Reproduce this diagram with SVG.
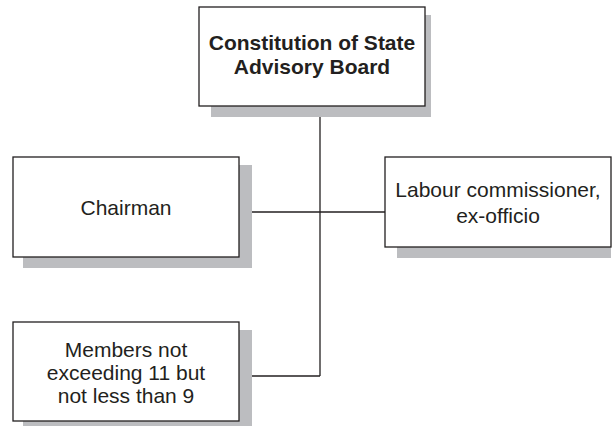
<svg xmlns="http://www.w3.org/2000/svg" width="613" height="427" viewBox="0 0 613 427">
  <style>
    .shadow { fill: #bcbdc0; }
    .box { fill: #ffffff; stroke: #231f20; stroke-width: 1.3; }
    .label { font-family: "Liberation Sans", Arial, sans-serif; font-size: 21px; fill: #231f20; text-anchor: middle; }
    .title { font-weight: bold; font-size: 21px; }
    .link { fill: none; stroke: #231f20; stroke-width: 1.3; }
  </style>

  <!-- connectors -->
  <g id="connectors">
    <line class="link" x1="320" y1="117" x2="320" y2="376"/>
    <line class="link" x1="252" y1="212" x2="385" y2="212"/>
    <line class="link" x1="252" y1="376" x2="320" y2="376"/>
  </g>

  <g id="board">
    <rect class="shadow" x="211" y="15" width="220" height="102"/>
    <rect class="box" x="199" y="7" width="226" height="99"/>
    <text class="label title" x="312" y="50">Constitution of State</text>
    <text class="label title" x="312" y="74">Advisory Board</text>
  </g>

  <g id="chairman">
    <rect class="shadow" x="23" y="165" width="229" height="103"/>
    <rect class="box" x="13" y="157" width="226" height="100"/>
    <text class="label" x="126" y="215">Chairman</text>
  </g>

  <g id="commissioner">
    <rect class="shadow" x="397" y="165" width="214" height="93"/>
    <rect class="box" x="385" y="157" width="226" height="90"/>
    <text class="label" x="498" y="197">Labour commissioner,</text>
    <text class="label" x="498" y="223">ex-officio</text>
  </g>

  <g id="members">
    <rect class="shadow" x="23" y="330" width="229" height="96"/>
    <rect class="box" x="13" y="322" width="226" height="99"/>
    <text class="label" x="126" y="357">Members not</text>
    <text class="label" x="126" y="380">exceeding 11 but</text>
    <text class="label" x="126" y="403">not less than 9</text>
  </g>
</svg>
